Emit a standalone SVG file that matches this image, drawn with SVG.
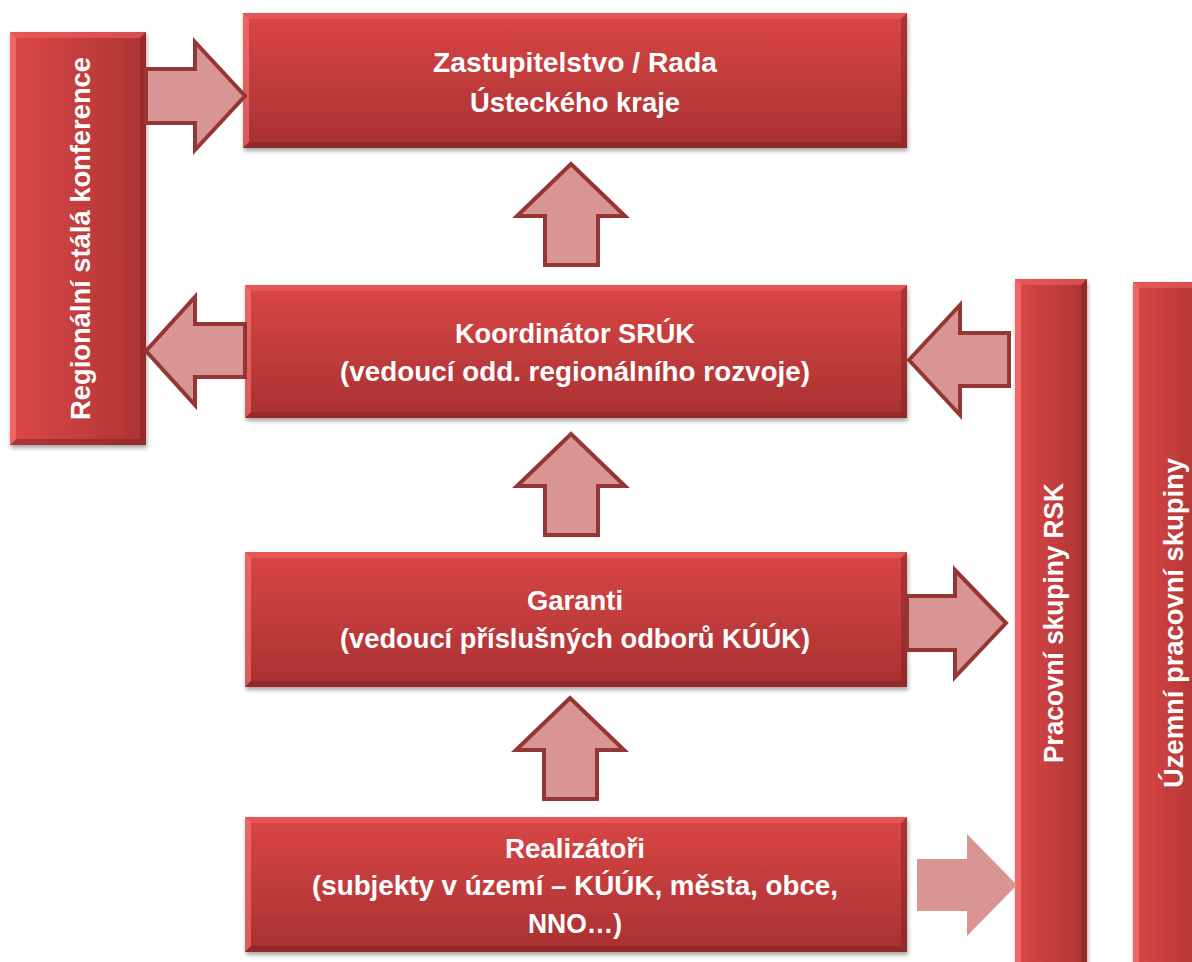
<svg xmlns="http://www.w3.org/2000/svg" width="1192" height="962" viewBox="0 0 1192 962">
<defs>
<linearGradient id="gH" x1="0" y1="0" x2="0" y2="1">
<stop offset="0" stop-color="#DA4646"/>
<stop offset="1" stop-color="#A83131"/>
</linearGradient>
<linearGradient id="gV" x1="0" y1="0" x2="1" y2="0">
<stop offset="0" stop-color="#DC4848"/>
<stop offset="1" stop-color="#AE3333"/>
</linearGradient>
<filter id="sh" x="-10%" y="-10%" width="120%" height="120%">
<feDropShadow dx="1" dy="3" stdDeviation="2" flood-color="#000" flood-opacity="0.35"/>
</filter>
</defs>
<style>
.box{fill:url(#gH);filter:url(#sh)}
.col{fill:url(#gV);filter:url(#sh)}
.bl{fill:#FF8080;opacity:.55}
.bt{fill:#F06060;opacity:.6}
.bd{fill:#7A2020;opacity:.45}
.arr{fill:#D99594;stroke:#963634;stroke-width:4;stroke-linejoin:miter}
.arr2{fill:#D99594}
text{font-family:"Liberation Sans",Arial,sans-serif;font-weight:bold;fill:#fff;font-size:27px}
.c{text-anchor:middle}
</style>
<rect width="1192" height="962" fill="#fff"/>

<g id="regionalni-konference">
<rect class="col" x="10" y="32" width="136" height="413"/>
<polygon class="bl" points="10,32 16,38 16,439 10,445"/>
<polygon class="bt" points="10,32 146,32 140,38 16,38"/>
<polygon class="bd" points="146,32 146,445 140,439 140,38"/>
<polygon class="bd" points="10,445 146,445 140,439 16,439"/>
<text transform="translate(90,420) rotate(-90)" textLength="363" lengthAdjust="spacingAndGlyphs">Regionální stálá konference</text>
</g>

<g id="zastupitelstvo">
<rect class="box" x="243" y="13" width="664" height="135"/>
<polygon class="bt" points="243,13 907,13 901,19 249,19"/>
<polygon class="bl" points="243,13 249,19 249,142 243,148"/>
<polygon class="bd" points="907,13 907,148 901,142 901,19"/>
<polygon class="bd" points="243,148 907,148 901,142 249,142"/>
<text class="c" x="575" y="72" textLength="284" lengthAdjust="spacingAndGlyphs">Zastupitelstvo / Rada</text>
<text class="c" x="575" y="112" textLength="210" lengthAdjust="spacingAndGlyphs">Ústeckého kraje</text>
</g>

<g id="koordinator">
<rect class="box" x="245" y="285" width="662" height="133"/>
<polygon class="bt" points="245,285 907,285 901,291 251,291"/>
<polygon class="bl" points="245,285 251,291 251,412 245,418"/>
<polygon class="bd" points="907,285 907,418 901,412 901,291"/>
<polygon class="bd" points="245,418 907,418 901,412 251,412"/>
<text class="c" x="575" y="343" textLength="240" lengthAdjust="spacingAndGlyphs">Koordinátor SRÚK</text>
<text class="c" x="575" y="381" textLength="470" lengthAdjust="spacingAndGlyphs">(vedoucí odd. regionálního rozvoje)</text>
</g>

<g id="garanti">
<rect class="box" x="245" y="552" width="662" height="135"/>
<polygon class="bt" points="245,552 907,552 901,558 251,558"/>
<polygon class="bl" points="245,552 251,558 251,681 245,687"/>
<polygon class="bd" points="907,552 907,687 901,681 901,558"/>
<polygon class="bd" points="245,687 907,687 901,681 251,681"/>
<text class="c" x="575" y="610" textLength="96" lengthAdjust="spacingAndGlyphs">Garanti</text>
<text class="c" x="575" y="648" textLength="470" lengthAdjust="spacingAndGlyphs">(vedoucí příslušných odborů KÚÚK)</text>
</g>

<g id="realizatori">
<rect class="box" x="245" y="817" width="662" height="135"/>
<polygon class="bt" points="245,817 907,817 901,823 251,823"/>
<polygon class="bl" points="245,817 251,823 251,946 245,952"/>
<polygon class="bd" points="907,817 907,952 901,946 901,823"/>
<polygon class="bd" points="245,952 907,952 901,946 251,946"/>
<text class="c" x="575" y="858" textLength="140" lengthAdjust="spacingAndGlyphs">Realizátoři</text>
<text class="c" x="575" y="895" textLength="526" lengthAdjust="spacingAndGlyphs">(subjekty v území – KÚÚK, města, obce,</text>
<text class="c" x="575" y="933" textLength="94" lengthAdjust="spacingAndGlyphs">NNO…)</text>
</g>

<g id="pracovni-skupiny-rsk">
<rect class="col" x="1015" y="279" width="72" height="700"/>
<polygon class="bl" points="1015,279 1021,285 1021,979 1015,979"/>
<polygon class="bt" points="1015,279 1087,279 1081,285 1021,285"/>
<polygon class="bd" points="1087,279 1087,979 1081,979 1081,285"/>
<text transform="translate(1063,763) rotate(-90)" textLength="280" lengthAdjust="spacingAndGlyphs">Pracovní skupiny RSK</text>
</g>

<g id="uzemni-pracovni-skupiny">
<rect class="col" x="1133" y="282" width="72" height="700"/>
<polygon class="bl" points="1133,282 1139,288 1139,982 1133,982"/>
<polygon class="bt" points="1133,282 1205,282 1199,288 1139,288"/>
<text transform="translate(1183,788) rotate(-90)" textLength="330" lengthAdjust="spacingAndGlyphs">Územní pracovní skupiny</text>
</g>

<g id="connectors">
<path class="arr" d="M146,69 L195,69 L195,42 L245,96 L195,150 L195,123 L146,123 Z"/>
<path class="arr" d="M245,324 L195,324 L195,297 L146,351 L195,405 L195,377 L245,377 Z"/>
<path class="arr" d="M1009,333 L960,333 L960,305 L909,360 L960,415 L960,386 L1009,386 Z"/>
<path class="arr" d="M907,596 L955,596 L955,570 L1006,623 L955,677 L955,650 L907,650 Z"/>
<path class="arr2" d="M917,859 L967,859 L967,834 L1017,885 L967,936 L967,911 L917,911 Z"/>
<path class="arr" d="M571,164 L625,216 L598,216 L598,265 L545,265 L545,216 L517,216 Z"/>
<path class="arr" d="M571,434 L625,486 L598,486 L598,535 L545,535 L545,486 L517,486 Z"/>
<path class="arr" d="M570,698 L624,750 L597,750 L597,799 L544,799 L544,750 L516,750 Z"/>
</g>
</svg>
